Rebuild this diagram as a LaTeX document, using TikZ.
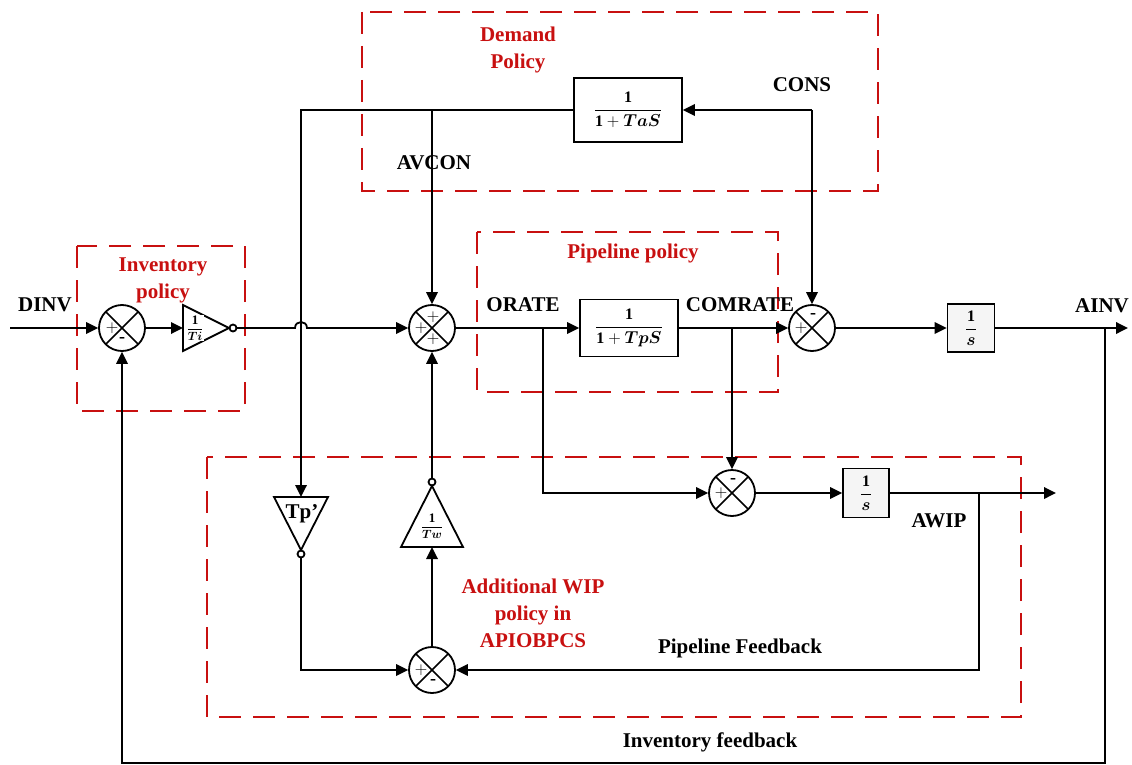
\documentclass[tikz,border=0pt]{standalone}
\usepackage{amsmath}
\usepackage{fontspec}
\setmainfont{Liberation Serif}
\usetikzlibrary{arrows.meta, calc}
\definecolor{polred}{RGB}{200,16,16}

\tikzset{
  sumj/.style={circle, draw, line width=1.8pt, minimum size=46pt, inner sep=0pt, fill=white,
    path picture={\draw[line width=1.6pt] (path picture bounding box.north west) -- (path picture bounding box.south east)
      (path picture bounding box.north east) -- (path picture bounding box.south west);}},
  blk/.style={draw, line width=1.8pt, fill=white, inner sep=1pt, font=\fontsize{16}{18}\selectfont},
  intblk/.style={blk, fill=gray!8, minimum width=47pt, minimum height=48pt},
  lbl/.style={font=\fontsize{21}{24}\selectfont\bfseries, inner sep=1pt},
  pol/.style={font=\fontsize{21}{27}\selectfont\bfseries, inner sep=1pt, text=polred, align=center},
  polbox/.style={draw=polred, line width=2pt, dash pattern=on 22pt off 12pt},
  sig/.style={font=\fontsize{18}{18}\selectfont, inner sep=0pt},
  arr/.style={->, line width=1.8pt}
}

\begin{document}
\begin{tikzpicture}[x=1pt, y=-1pt, >={Triangle[length=12pt,width=11.5pt]}, line width=1.8pt]

  \useasboundingbox (0,0) rectangle (1132,765);

  % --- Policy boxes (red dashed) ---
  \draw[polbox] (362,12) rectangle (878,191);
  \draw[polbox] (77,246) rectangle (245,411);
  \draw[polbox] (477,232) rectangle (778,392);
  \draw[polbox] (207,457) rectangle (1021,717);

  \node[pol] (invpol) at (163,280) {Inventory\\policy};
  \node[pol] (dempol) at (518,50) {Demand\\Policy};
  \node[pol] (pippol) at (633,253) {Pipeline policy};
  \node[pol] (wippol) at (533,613) {Additional WIP\\policy in\\APIOBPCS};

  % --- Summing junctions ---
  \node[sumj] (s1) at (122,328) {};
  \node[sumj] (s2) at (432,328) {};
  \node[sumj] (s3) at (812,328) {};
  \node[sumj] (s4) at (732,493) {};
  \node[sumj] (s5) at (432,670) {};

  \node[sig] at ($(s1)+(-10,0)$) {$+$};
  \node[sig] at ($(s1)+(0,12)$) {\bfseries -};
  \node[sig] at ($(s2)+(-11,0)$) {$+$};
  \node[sig] at ($(s2)+(1,-11)$) {$+$};
  \node[sig] at ($(s2)+(1,11)$) {$+$};
  \node[sig] at ($(s3)+(-11,0)$) {$+$};
  \node[sig] at ($(s3)+(1,-12)$) {\bfseries -};
  \node[sig] at ($(s4)+(-11,0)$) {$+$};
  \node[sig] at ($(s4)+(1,-12)$) {\bfseries -};
  \node[sig] at ($(s5)+(-11,0)$) {$+$};
  \node[sig] at ($(s5)+(1,12)$) {\bfseries -};

  % --- Transfer blocks ---
  \node[blk, minimum width=108pt, minimum height=64pt] (ta) at (628,110) {$\dfrac{\mathbf{1}}{\mathbf{1}+\boldsymbol{TaS}}$};
  \node[blk, minimum width=98pt, minimum height=57pt] (tp) at (629,328) {$\dfrac{\mathbf{1}}{\mathbf{1}+\boldsymbol{TpS}}$};
  \node[intblk] (int1) at (971,328) {$\dfrac{\mathbf{1}}{\boldsymbol{s}}$};
  \node[intblk, minimum width=46pt, minimum height=49pt] (int2) at (866,493) {$\dfrac{\mathbf{1}}{\boldsymbol{s}}$};

  % --- Gains (triangles) ---
  \draw (183,305) -- (229,328) -- (183,351) -- cycle;
  \draw (233,328) circle (3.5pt);
  \node[fill=white, inner sep=0.5pt, font=\fontsize{13}{15}\selectfont] (ti) at (195,328) {$\dfrac{\mathbf{1}}{\boldsymbol{Ti}}$};
  \coordinate (tiin) at (183,328);
  \coordinate (tiout) at (236.5,328);

  \draw (274,497) -- (328,497) -- (301,550) -- cycle;
  \draw (301,554) circle (3.5pt);
  \node[lbl, inner sep=0pt] (tpg) at (302,514) {Tp’};
  \coordinate (tpin) at (301,497);
  \coordinate (tpout) at (301,557.5);

  \draw (401,547) -- (463,547) -- (432,486) -- cycle;
  \draw (432,482) circle (3.5pt);
  \node[fill=white, inner sep=0.5pt, font=\fontsize{13}{15}\selectfont] (tw) at (432,526) {$\dfrac{\mathbf{1}}{\boldsymbol{Tw}}$};
  \coordinate (twin) at (432,547);
  \coordinate (twout) at (432,478.5);

  % --- Signal labels ---
  \node[lbl] (dinvl) at (45,305) {DINV};
  \node[lbl] (consl) at (802,85) {CONS};
  \node[lbl] (avconl) at (434,163) {AVCON};
  \node[lbl] (oratel) at (523,305) {ORATE};
  \node[lbl] (comratel) at (740,305) {COMRATE};
  \node[lbl] (ainvl) at (1102,306) {AINV};
  \node[lbl] (awipl) at (939,521) {AWIP};
  \node[lbl] (pfbl) at (740,648) {Pipeline Feedback};
  \node[lbl] (ifbl) at (710,742) {Inventory feedback};

  % --- Branch points ---
  \coordinate (dinv) at (10,328);
  \coordinate (cons) at (812,110);
  \coordinate (hopl) at (295,328);
  \coordinate (hopr) at (307,328);
  \coordinate (ob) at (543,328);
  \coordinate (cb) at (732,328);
  \coordinate (ab) at (1105,328);
  \coordinate (ainv) at (1128,328);
  \coordinate (wb) at (979,493);
  \coordinate (awip) at (1056,493);
  \coordinate (fbl) at (1105,763);

  % --- Forward path ---
  \draw[arr] (dinv) -- (s1.west);
  \draw[arr] (s1.east) -- (tiin);
  \draw[arr] (tiout) -- (hopl) .. controls ($(hopl)+(0,-8)$) and ($(hopr)+(0,-8)$) .. (hopr) -- (s2.west);
  \draw[arr] (s2.east) -- (tp.west);
  \draw[arr] (tp.east) -- (s3.west);
  \draw[arr] (s3.east) -- (int1.west);
  \draw[arr] (int1.east) -- (ainv);

  % --- Demand policy ---
  \draw[arr] (cons) -- (ta.east);
  \draw[arr] (cons) -- (s3.north);
  \draw[arr] (ta.west) -| (tpin);
  \draw[arr] (s2 |- ta.west) -- (s2.north);

  % --- WIP loop ---
  \draw[arr] (ob) |- (s4.west);
  \draw[arr] (cb) -- (s4.north);
  \draw[arr] (s4.east) -- (int2.west);
  \draw[arr] (int2.east) -- (awip);
  \draw[arr] (wb) |- (s5.east);
  \draw[arr] (tpout) |- (s5.west);
  \draw[arr] (s5.north) -- (twin);
  \draw[arr] (twout) -- (s2.south);

  % --- Inventory feedback ---
  \draw[arr] (ab) -- (fbl) -| (s1.south);

\end{tikzpicture}
\end{document}
